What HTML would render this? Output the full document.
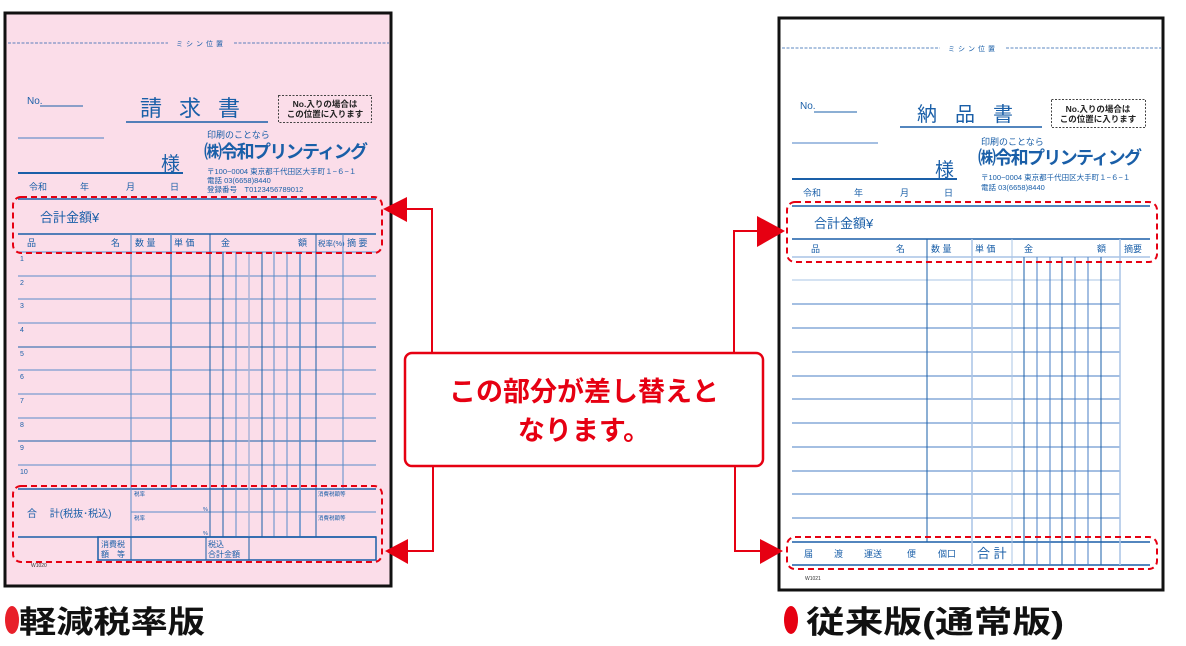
<!DOCTYPE html>
<html><head><meta charset="utf-8"><style>
html,body{margin:0;padding:0;background:#fff;width:1186px;height:646px;overflow:hidden}
svg{display:block}
text{font-family:"Liberation Sans","Noto Sans CJK JP",sans-serif}
.b{fill:#1a5fa8}
</style></head><body>
<svg width="1186" height="646" viewBox="0 0 1186 646">
<!-- LEFT FORM -->
<rect x="5" y="13" width="386" height="573" fill="#fbdde9" stroke="#111" stroke-width="3"/>
<line x1="8" y1="43" x2="168" y2="43" stroke="#2a62ad" stroke-width="0.8" stroke-dasharray="3,1.5"/>
<line x1="234" y1="43" x2="389" y2="43" stroke="#2a62ad" stroke-width="0.8" stroke-dasharray="3,1.5"/>
<text x="201" y="46" font-size="7" class="b" text-anchor="middle" letter-spacing="3">ミシン位置</text>
<text x="27" y="104" font-size="10" class="b">No.</text>
<line x1="40" y1="106" x2="83" y2="106" stroke="#1a5fa8"/>
<text x="140" y="116" font-size="22" class="b" letter-spacing="17">請求書</text>
<line x1="126" y1="122" x2="268" y2="122" stroke="#1a5fa8" stroke-width="1.5"/>
<rect x="278.5" y="95.5" width="93" height="27" fill="none" stroke="#444" stroke-dasharray="2,1.5"/>
<text x="325" y="107" font-size="8.5" font-weight="bold" text-anchor="middle" fill="#222">No.入りの場合は</text>
<text x="325" y="117" font-size="8.5" font-weight="bold" text-anchor="middle" fill="#222">この位置に入ります</text>
<line x1="18" y1="138" x2="104" y2="138" stroke="#4a7fc4"/>
<text x="161" y="170" font-size="19" class="b">様</text>
<line x1="18" y1="173" x2="183" y2="173" stroke="#1a5fa8" stroke-width="2"/>
<text x="207" y="138" font-size="9" class="b">印刷のことなら</text>
<text x="204" y="158" font-size="18" font-weight="bold" class="b" textLength="164">㈱令和プリンティング</text>
<text x="207" y="174" font-size="7.5" class="b">〒100−0004 東京都千代田区大手町１−６−１</text>
<text x="207" y="183" font-size="7.5" class="b">電話 03(6658)8440</text>
<text x="207" y="192" font-size="7.5" class="b">登録番号　T0123456789012</text>
<text x="29" y="190" font-size="9" class="b">令和</text>
<text x="80" y="190" font-size="9" class="b">年</text>
<text x="126" y="190" font-size="9" class="b">月</text>
<text x="170" y="190" font-size="9" class="b">日</text>
<line x1="18" y1="199" x2="376" y2="199" stroke="#1a5fa8" stroke-width="1.5"/>
<text x="40" y="222" font-size="13" class="b">合計金額¥</text>
<line x1="18" y1="234" x2="376" y2="234" stroke="#1a5fa8" stroke-width="1.5"/>
<g font-size="9" class="b">
<text x="27" y="246">品</text><text x="111" y="246">名</text>
<text x="135" y="246">数 量</text><text x="174" y="246">単 価</text>
<text x="221" y="246">金</text><text x="298" y="246">額</text>
<text x="318" y="246" font-size="7.5">税率(%)</text><text x="347" y="246">摘 要</text>
</g>
<g stroke="#5a8bc9" stroke-width="1">
<line x1="18" y1="252" x2="376" y2="252"/><line x1="18" y1="276" x2="376" y2="276"/>
<line x1="18" y1="299" x2="376" y2="299"/><line x1="18" y1="323" x2="376" y2="323"/>
<line x1="18" y1="347" x2="376" y2="347" stroke="#1a5fa8"/><line x1="18" y1="370" x2="376" y2="370"/>
<line x1="18" y1="394" x2="376" y2="394"/><line x1="18" y1="418" x2="376" y2="418"/>
<line x1="18" y1="441" x2="376" y2="441" stroke="#1a5fa8"/><line x1="18" y1="465" x2="376" y2="465"/>
<line x1="18" y1="489" x2="376" y2="489" stroke="#1a5fa8" stroke-width="1.5"/>
<line x1="131" y1="512" x2="376" y2="512"/>
<line x1="18" y1="537" x2="376" y2="537" stroke="#1a5fa8" stroke-width="1.5"/>
<line x1="131" y1="234" x2="131" y2="537"/>
<line x1="171" y1="234" x2="171" y2="489" stroke-width="1.5"/>
<line x1="210" y1="234" x2="210" y2="537" stroke="#1a5fa8"/>
<line x1="223" y1="252" x2="223" y2="537" stroke="#1a5fa8"/>
<line x1="236" y1="252" x2="236" y2="537"/>
<line x1="249" y1="252" x2="249" y2="537" stroke="#aab4d8" stroke-width="1.5"/>
<line x1="262" y1="252" x2="262" y2="537" stroke="#1a5fa8"/>
<line x1="274" y1="252" x2="274" y2="537"/>
<line x1="287" y1="252" x2="287" y2="537"/>
<line x1="300" y1="252" x2="300" y2="537" stroke-width="1.5"/>
<line x1="316" y1="234" x2="316" y2="537" stroke="#1a5fa8"/>
<line x1="343" y1="234" x2="343" y2="489"/>
</g>
<g font-size="7" class="b">
<text x="20" y="261">1</text><text x="20" y="285">2</text><text x="20" y="308">3</text><text x="20" y="332">4</text>
<text x="20" y="356">5</text><text x="20" y="379">6</text><text x="20" y="403">7</text><text x="20" y="427">8</text>
<text x="20" y="450">9</text><text x="20" y="474">10</text>
</g>
<text x="27" y="517" font-size="10" class="b">合　 計(税抜･税込)</text>
<g font-size="5.5" class="b"><text x="134" y="496">税率</text><text x="134" y="520">税率</text>
<text x="203" y="511">%</text><text x="203" y="535">%</text>
<text x="318" y="496">消費税額等</text><text x="318" y="520">消費税額等</text></g>
<rect x="98" y="537" width="278" height="23" fill="none" stroke="#1a5fa8" stroke-width="1.5"/>
<g stroke="#1a5fa8"><line x1="131" y1="537" x2="131" y2="560"/><line x1="206" y1="537" x2="206" y2="560"/><line x1="249" y1="537" x2="249" y2="560"/></g>
<g font-size="8" class="b"><text x="101" y="547">消費税</text><text x="101" y="557">額　等</text>
<text x="208" y="547">税込</text><text x="208" y="557">合計金額</text></g>
<text x="31" y="567" font-size="5" fill="#333">W1020</text>
<rect x="13" y="197" width="369" height="56" rx="8" fill="none" stroke="#e60012" stroke-width="2" stroke-dasharray="6,4"/>
<rect x="13" y="486" width="369" height="76" rx="8" fill="none" stroke="#e60012" stroke-width="2" stroke-dasharray="6,4"/>

<!-- RIGHT FORM -->
<rect x="779" y="18" width="384" height="572" fill="#fff" stroke="#111" stroke-width="3"/>
<line x1="782" y1="48" x2="940" y2="48" stroke="#2a62ad" stroke-width="0.8" stroke-dasharray="3,1.5"/>
<line x1="1006" y1="48" x2="1161" y2="48" stroke="#2a62ad" stroke-width="0.8" stroke-dasharray="3,1.5"/>
<text x="973" y="51" font-size="7" class="b" text-anchor="middle" letter-spacing="3">ミシン位置</text>
<text x="800" y="109" font-size="10" class="b">No.</text>
<line x1="814" y1="112" x2="857" y2="112" stroke="#1a5fa8"/>
<text x="917" y="121" font-size="20" class="b" letter-spacing="18">納品書</text>
<line x1="900" y1="127" x2="1042" y2="127" stroke="#1a5fa8" stroke-width="1.5"/>
<rect x="1051.5" y="99.5" width="94" height="28" fill="none" stroke="#444" stroke-dasharray="2,1.5"/>
<text x="1098" y="112" font-size="8.5" font-weight="bold" text-anchor="middle" fill="#222">No.入りの場合は</text>
<text x="1098" y="122" font-size="8.5" font-weight="bold" text-anchor="middle" fill="#222">この位置に入ります</text>
<line x1="792" y1="143" x2="878" y2="143" stroke="#4a7fc4"/>
<text x="935" y="176" font-size="19" class="b">様</text>
<line x1="792" y1="179" x2="957" y2="179" stroke="#1a5fa8" stroke-width="2"/>
<text x="981" y="145" font-size="9" class="b">印刷のことなら</text>
<text x="978" y="164" font-size="18" font-weight="bold" class="b" textLength="164">㈱令和プリンティング</text>
<text x="981" y="180" font-size="7.5" class="b">〒100−0004 東京都千代田区大手町１−６−１</text>
<text x="981" y="190" font-size="7.5" class="b">電話 03(6658)8440</text>
<text x="803" y="196" font-size="9" class="b">令和</text>
<text x="854" y="196" font-size="9" class="b">年</text>
<text x="900" y="196" font-size="9" class="b">月</text>
<text x="944" y="196" font-size="9" class="b">日</text>
<line x1="792" y1="206" x2="1150" y2="206" stroke="#1a5fa8" stroke-width="1.5"/>
<text x="814" y="228" font-size="13" class="b">合計金額¥</text>
<line x1="792" y1="239" x2="1150" y2="239" stroke="#1a5fa8" stroke-width="1.5"/>
<g font-size="9" class="b">
<text x="811" y="252">品</text><text x="896" y="252">名</text>
<text x="931" y="252">数 量</text><text x="975" y="252">単 価</text>
<text x="1024" y="252">金</text><text x="1097" y="252">額</text>
<text x="1124" y="252">摘要</text>
</g>
<g stroke="#4a7fc4" stroke-width="1">
<line x1="792" y1="257" x2="1150" y2="257" stroke="#a9c4e6" stroke-width="1.5"/>
<line x1="792" y1="280" x2="1120" y2="280" stroke="#a9c4e6"/>
<line x1="792" y1="304" x2="1120" y2="304"/><line x1="792" y1="328" x2="1120" y2="328"/>
<line x1="792" y1="352" x2="1120" y2="352"/><line x1="792" y1="376" x2="1120" y2="376"/>
<line x1="792" y1="399" x2="1120" y2="399"/><line x1="792" y1="423" x2="1120" y2="423"/>
<line x1="792" y1="447" x2="1120" y2="447"/><line x1="792" y1="471" x2="1120" y2="471"/>
<line x1="792" y1="494" x2="1120" y2="494"/><line x1="792" y1="518" x2="1120" y2="518"/>
<line x1="792" y1="542" x2="1150" y2="542" stroke="#1a5fa8" stroke-width="1.5"/>
<line x1="792" y1="565" x2="1150" y2="565" stroke="#1a5fa8" stroke-width="1.5"/>
<line x1="927" y1="239" x2="927" y2="542" stroke="#1a5fa8"/>
<line x1="972" y1="239" x2="972" y2="565" stroke="#a9c4e6" stroke-width="1.5"/>
<line x1="1012" y1="239" x2="1012" y2="565" stroke="#a9c4e6"/>
<line x1="1024" y1="257" x2="1024" y2="565" stroke="#1a5fa8"/>
<line x1="1037" y1="257" x2="1037" y2="565"/>
<line x1="1050" y1="257" x2="1050" y2="565"/>
<line x1="1062" y1="257" x2="1062" y2="565" stroke="#1a5fa8"/>
<line x1="1075" y1="257" x2="1075" y2="565"/>
<line x1="1088" y1="257" x2="1088" y2="565"/>
<line x1="1101" y1="257" x2="1101" y2="565" stroke="#1a5fa8"/>
<line x1="1120" y1="239" x2="1120" y2="565" stroke="#a9c4e6" stroke-width="1.5"/>
</g>
<g font-size="9" class="b"><text x="804" y="557">届</text><text x="834" y="557">渡</text><text x="864" y="557">運送</text><text x="907" y="557">便</text><text x="938" y="557">個口</text></g>
<text x="977" y="558" font-size="13" class="b">合 計</text>
<text x="805" y="580" font-size="5" fill="#333">W1021</text>
<rect x="787" y="202" width="370" height="60" rx="8" fill="none" stroke="#e60012" stroke-width="2" stroke-dasharray="6,4"/>
<rect x="787" y="537" width="370" height="32" rx="8" fill="none" stroke="#e60012" stroke-width="2" stroke-dasharray="6,4"/>

<!-- CONNECTORS -->
<g stroke="#e60012" stroke-width="2" fill="none">
<polyline points="432,353 432,209 400,209"/>
<polyline points="433,466 433,551 400,551"/>
<polyline points="734,353 734,231 765,231"/>
<polyline points="735,466 735,551 765,551"/>
</g>
<g fill="#e60012">
<polygon points="383,209 407,197 407,222"/>
<polygon points="385,551 408,539 408,564"/>
<polygon points="785,231 757,216 757,247"/>
<polygon points="783,551 760,539 760,564"/>
</g>
<rect x="405" y="353" width="358" height="113" rx="7" fill="#fff" stroke="#e60012" stroke-width="2.5"/>
<text x="584" y="401" font-size="27" font-weight="bold" fill="#e60012" text-anchor="middle">この部分が差し替えと</text>
<text x="584" y="440" font-size="27" font-weight="bold" fill="#e60012" text-anchor="middle">なります。</text>

<!-- LABELS -->
<ellipse cx="12" cy="620" rx="7" ry="14" fill="#e8202a"/>
<text x="19" y="633" font-size="31" font-weight="bold" fill="#111" textLength="186" lengthAdjust="spacingAndGlyphs">軽減税率版</text>
<ellipse cx="791" cy="620" rx="7" ry="14" fill="#e60012"/>
<text x="806" y="633" font-size="31" font-weight="bold" fill="#111" textLength="258" lengthAdjust="spacingAndGlyphs">従来版(通常版)</text>
</svg>
</body></html>
